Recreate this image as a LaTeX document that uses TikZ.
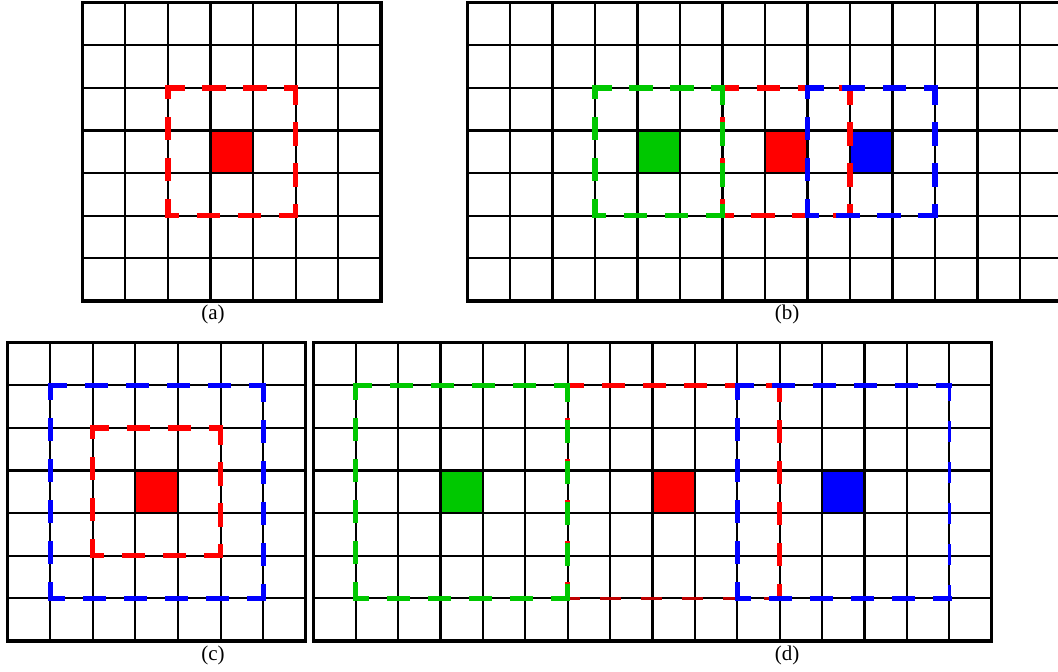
\documentclass[tikz,border=0pt]{standalone}
\usepackage{fontspec}
\setmainfont{Liberation Serif}
\definecolor{mred}{RGB}{255,0,0}
\definecolor{mgreen}{RGB}{0,200,0}
\definecolor{mblue}{RGB}{0,0,255}
\tikzset{
  gridline/.style={black, line width=2.1pt},
  frameline/.style={black, line width=3.2pt},
  dboxline/.style={line width=5.2pt, line cap=rect, dash pattern=on 18pt off 23pt, dash phase=4pt},
  lab/.style={font=\fontsize{21}{24}\selectfont, inner sep=0pt, anchor=center}
}
% grid: x0, y0, ncols, nrows, cw, ch
\newcommand\pgrid[6]{%
  \foreach \i in {1,...,#3}{\draw[gridline] ({#1+\i*#5},{#2}) -- ({#1+\i*#5},{#2+#4*#6});}
  \foreach \j in {1,...,#4}{\draw[gridline] ({#1},{#2+\j*#6}) -- ({#1+#3*#5},{#2+\j*#6});}
  \draw[frameline] ({#1},{#2}) rectangle ({#1+#3*#5},{#2+#4*#6});
}
% filled cell: colour, x0, y0, cw, ch, col, row
\newcommand\pcell[7]{\fill[#1] ({#2+#6*#4},{#3+#7*#5}) rectangle ({#2+(#6+1)*#4},{#3+(#7+1)*#5});}
% dashed box: colour, x1, y1, x2, y2
\newcommand\pdbox[5]{%
  \draw[dboxline,#1] (#2,#3) -- (#4,#3);
  \draw[dboxline,#1] (#4,#3) -- (#4,#5);
  \draw[dboxline,#1] (#4,#5) -- (#2,#5);
  \draw[dboxline,#1] (#2,#5) -- (#2,#3);
}
\begin{document}
\begin{tikzpicture}[x=1pt,y=-1pt]
\useasboundingbox (0,0) rectangle (1058,672);
% ---------- (a)
\pcell{mred}{82.7}{2.7}{42.6}{42.6}{3}{3}
\pgrid{82.7}{2.7}{7}{7}{42.6}{42.6}
\pdbox{mred}{167.9}{87.9}{295.7}{215.7}
\node[lab] (la) at (213,314) {(a)};
% ---------- (b)
\pcell{mgreen}{467.5}{2.7}{42.5}{42.6}{4}{3}
\pcell{mred}{467.5}{2.7}{42.5}{42.6}{7}{3}
\pcell{mblue}{467.5}{2.7}{42.5}{42.6}{9}{3}
\pgrid{467.5}{2.7}{14}{7}{42.5}{42.6}
\pdbox{mred}{722.5}{87.9}{850}{215.7}
\pdbox{mgreen}{595}{87.9}{722.5}{215.7}
\pdbox{mblue}{807.5}{87.9}{935}{215.7}
\node[lab] (lb) at (787,314) {(b)};
% ---------- (c)
\pcell{mred}{7.7}{342.7}{42.57}{42.6}{3}{3}
\pgrid{7.7}{342.7}{7}{7}{42.57}{42.6}
\pdbox{mred}{92.8}{427.9}{220.4}{555.7}
\pdbox{mblue}{50.3}{385.3}{263.1}{598.3}
\node[lab] (lc) at (213,655) {(c)};
% ---------- (d)
\pcell{mgreen}{313.3}{342.7}{42.4}{42.6}{3}{3}
\pcell{mred}{313.3}{342.7}{42.4}{42.6}{8}{3}
\pcell{mblue}{313.3}{342.7}{42.4}{42.6}{12}{3}
\pgrid{313.3}{342.7}{16}{7}{42.4}{42.6}
% red box (bottom edge thinner and darker)
\draw[dboxline,mred] (567.7,385.3) -- (779.7,385.3);
\draw[dboxline,mred] (779.7,385.3) -- (779.7,598.3);
\draw[dboxline,mred!75!black,line width=2.8pt] (779.7,598.3) -- (567.7,598.3);
\draw[dboxline,mred] (567.7,598.3) -- (567.7,385.3);
\pdbox{mgreen}{355.7}{385.3}{567.7}{598.3}
% blue box (right edge thinner)
\draw[dboxline,mblue] (737.3,385.3) -- (949.3,385.3);
\draw[dboxline,mblue,line width=3.4pt] (949.3,385.3) -- (949.3,598.3);
\draw[dboxline,mblue] (949.3,598.3) -- (737.3,598.3);
\draw[dboxline,mblue] (737.3,598.3) -- (737.3,385.3);
\node[lab] (ld) at (787,655) {(d)};
\end{tikzpicture}
\end{document}
